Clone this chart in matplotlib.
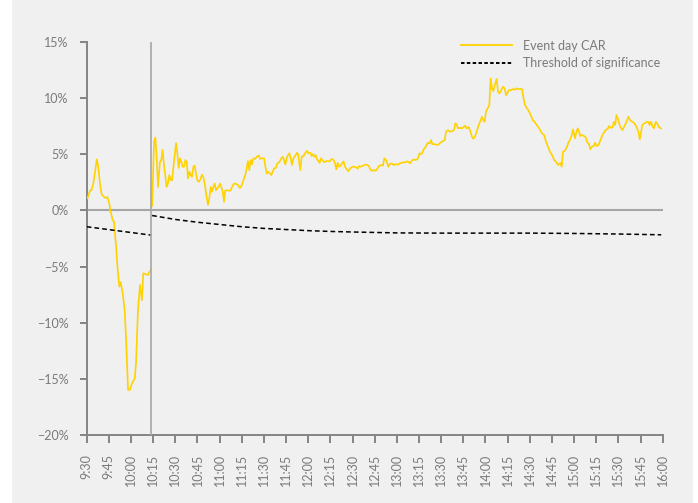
import matplotlib
matplotlib.use("Agg")
import matplotlib.pyplot as plt
from matplotlib.lines import Line2D
from matplotlib.patches import Rectangle

plt.rcParams['font.family'] = ['Lato', 'DejaVu Sans']

# ---- data (minutes after 9:30) ----
tick_labels = ["9:30", "9:45", "10:00", "10:15", "10:30", "10:45", "11:00", "11:15", "11:30",
               "11:45", "12:00", "12:15", "12:30", "12:45", "13:00", "13:15", "13:30", "13:45",
               "14:00", "14:15", "14:30", "14:45", "15:00", "15:15", "15:30", "15:45", "16:00"]
y_ticks = [-20, -15, -10, -5, 0, 5, 10, 15]

pre_t = [0.5, 2.3, 3.2, 4.5, 5.4, 6.8, 7.7, 9, 10, 11.7, 13, 14, 15.3, 16.2, 17.6, 18.5, 19.9,
         20.8, 22.1, 23, 24.4, 25.7, 26.6, 28, 29.3, 30.7, 32.5, 33.4, 34.7, 36.1, 37.4, 38.3,
         40.2, 41.5, 42.4, 43.7]
pre_car = [1.08, 1.8, 1.8, 2.4, 3.2, 4.56, 4.05, 2.4, 1.5, 1.2, 1.1, 1.2, 0.6, -0.1, -0.86,
           -1.0, -3.2, -5.0, -6.8, -6.4, -7.4, -8.9, -11.3, -16.0, -16.0, -15.4, -15.0, -13.6,
           -8.9, -6.65, -8.0, -5.6, -5.7, -5.75, -5.5, -5.25]

post_t = [44.3, 45.6, 46.5, 47.4, 48.3, 49.6, 50.5, 51.4, 52.3, 53.2, 54.1, 55, 55.9, 56.9,
          57.8, 59.1, 60.5, 61.3, 62.3, 63.2, 64.1, 65, 65.9, 66.8, 67.7, 68.6, 69.5, 70.4,
          71.3, 72.2, 73.1, 74, 74.9, 75.8, 76.7, 78.1, 78.9, 79.9, 81.2, 82.1, 83, 84, 84.8,
          85.7, 86.7, 87.5, 88.4, 89.4, 90.2, 91.1, 92.1, 93, 93.8, 94.8, 96.1, 97.5, 98.4,
          99.7, 101.1, 102.4, 103.8, 105.1, 106.5, 107.4, 108.3, 109.2, 110.1, 111, 111.9,
          112.8, 114.2, 115.1, 116.5, 117.4, 118.7, 120.1, 121, 121.9, 122.8, 124.1, 125,
          125.9, 126.8, 128.2, 129, 130.4, 131.3, 132.7, 133.6, 134.5, 135.4, 136.3, 137.2,
          138.1, 139, 139.9, 140.8, 142.4, 143.3, 144.6, 145.6, 146.9, 147.8, 149.2, 150,
          151.4, 152.3, 153.2, 154.1, 155, 155.9, 156.8, 157.7, 158.6, 159.5, 160.9, 162.2,
          163.6, 164.9, 165.9, 167.2, 168.1, 169, 169.9, 170.8, 171.7, 172.6, 173.9, 174.9,
          176.2, 177.1, 178.5, 179.8, 181.2, 182.5, 183.5, 184.4, 185.7, 187.1, 188.4, 189.8,
          191.1, 192, 193, 194.3, 195.7, 196.5, 197.9, 199.3, 200.6, 201.5, 202.5, 203.4,
          204.2, 205.2, 206.6, 207.9, 209.3, 210.6, 212, 213.3, 214.7, 216, 216.9, 218.2,
          219.1, 220, 221.4, 222.7, 224.1, 225.4, 226.8, 228.2, 229.5, 230.9, 232.2, 233.1,
          234, 235.3, 236.7, 238.1, 239.4, 240.8, 242.4, 243.3, 244.6, 246, 247.4, 248.7,
          249.6, 250.5, 251.4, 252.7, 254.1, 255.4, 256.3, 257.3, 258.6, 259.5, 260.9, 261.7,
          262.7, 264, 265.4, 266.8, 267.6, 268.5, 269.5, 270.3, 271.7, 272.6, 273.5, 274.4,
          275.3, 276.3, 277.6, 278.5, 279.4, 280.3, 281.2, 282.1, 283.1, 283.9, 284.8, 285.8,
          287.1, 288.4, 289.8, 291.1, 292.5, 293.8, 294.7, 295.6, 296.6, 297.9, 299.3, 300.6,
          302, 303.3, 304.7, 306.1, 307, 308.3, 309.7, 311, 312.4, 313.7, 315.1, 316.5, 317.8,
          319.2, 320.7, 321.6, 322.5, 323.8, 325.2, 326.1, 327.4, 328.4, 329.3, 330.6, 331.5,
          332.4, 333.3, 334.2, 335.2, 336.5, 337.9, 338.7, 340.1, 341, 342, 343.3, 344.2,
          345.1, 346.5, 347.4, 348.7, 350.1, 351.4, 352.8, 353.7, 355, 355.9, 356.9, 357.8,
          358.7, 359.6, 360.5, 361.4, 362.8, 364.1, 365.5, 366.8, 368.2, 369.5, 370.9, 372.2,
          373.6, 374.5, 375.4, 376.2, 377.6, 379, 380.3, 381.2, 382.1, 383, 384, 385.3, 386.2,
          387.6, 388.9]
post_car = [0.4, 6.1, 6.5, 4.65, 2.1, 4.35, 4.5, 5.4, 4.05, 3.16, 2.1, 2.4, 3.16, 2.7, 2.7,
            4.35, 6.0, 5.2, 3.8, 4.65, 4.35, 3.9, 3.9, 4.5, 4.35, 2.86, 3.45, 3.16, 3.0, 3.9,
            4.0, 3.3, 2.7, 2.56, 2.7, 3.2, 3.0, 2.4, 1.2, 0.5, 1.08, 2.1, 1.67, 2.1, 2.4, 1.8,
            1.97, 2.1, 2.4, 2.1, 1.67, 0.78, 1.8, 1.8, 1.76, 1.8, 2.1, 2.4, 2.38, 2.27, 2.0,
            2.27, 2.86, 3.16, 3.75, 4.4, 3.6, 4.5, 4.1, 4.65, 4.6, 4.8, 4.9, 4.6, 4.65, 4.65,
            3.9, 3.3, 3.45, 3.3, 3.16, 3.45, 3.75, 3.8, 4.2, 4.3, 4.55, 4.8, 4.5, 4.1, 4.65,
            4.94, 5.1, 4.65, 4.05, 4.65, 4.8, 5.15, 4.94, 3.6, 4.8, 4.85, 5.1, 5.33, 5.1, 5.15,
            4.85, 5.03, 4.8, 4.94, 4.55, 4.43, 4.25, 4.65, 4.5, 4.3, 4.4, 4.38, 4.43, 4.6, 4.5,
            4.2, 3.67, 4.25, 3.9, 3.96, 4.14, 4.38, 3.9, 3.67, 3.5, 3.75, 3.9, 3.9, 3.84, 3.72,
            3.96, 3.9, 3.99, 4.08, 4.08, 3.96, 3.67, 3.54, 3.6, 3.54, 3.67, 3.96, 4.05, 4.0,
            4.65, 4.55, 4.25, 3.9, 4.14, 4.2, 4.05, 4.14, 4.08, 4.2, 4.25, 4.3, 4.3, 4.38, 4.3,
            4.2, 4.43, 4.55, 4.5, 4.6, 5.1, 5.03, 5.45, 5.68, 6.04, 5.98, 6.28, 5.92, 5.92,
            5.86, 5.86, 6.04, 6.16, 6.28, 7.02, 7.17, 7.02, 7.08, 7.17, 7.77, 7.68, 7.32, 7.38,
            7.32, 7.47, 7.56, 7.32, 7.44, 7.17, 6.57, 6.4, 6.52, 7.02, 7.62, 8.06, 8.36, 8.06,
            7.91, 8.8, 9.16, 9.4, 11.78, 10.9, 10.65, 11.19, 11.72, 10.59, 10.45, 10.59, 10.9,
            11.04, 10.83, 10.29, 10.45, 10.74, 10.71, 10.83, 10.77, 10.9, 10.83, 10.83, 10.83,
            10.14, 9.46, 9.16, 8.87, 8.51, 8.06, 7.91, 7.62, 7.38, 7.17, 6.88, 6.73, 6.13, 5.68,
            5.24, 4.94, 4.5, 4.35, 4.05, 4.25, 3.9, 5.24, 5.33, 5.68, 6.04, 6.34, 6.73, 7.23,
            6.43, 6.93, 7.32, 7.02, 6.64, 6.73, 6.66, 6.52, 6.13, 5.92, 5.45, 5.68, 5.75, 6.04,
            5.75, 5.83, 6.13, 6.57, 6.93, 7.17, 7.29, 7.53, 7.35, 7.41, 7.91, 7.62, 8.51, 8.21,
            7.77, 7.41, 7.17, 7.53, 7.91, 8.36, 8.0, 7.91, 7.77, 7.47, 7.02, 6.34, 7.02, 7.62,
            7.77, 7.89, 7.91, 7.62, 7.91, 7.53, 7.32, 7.91, 7.77, 7.41, 7.32]

thr_pre_t = [0, 43.7]
thr_pre = [-1.45, -2.2]
thr_post_t = [44.3, 60, 75, 90, 105, 120, 135, 150, 165, 180, 195, 210, 240, 270, 300, 330, 360, 389]
thr_post = [-0.45, -0.8, -1.05, -1.25, -1.45, -1.6, -1.7, -1.8, -1.87, -1.92, -1.96, -2.0,
            -2.02, -2.02, -2.02, -2.05, -2.1, -2.17]
event_t = 43.7

# ---- style ----
YELLOW = "#FFD200"
GRID_GREY = "#a6a6a6"
AX_GREY = "#858585"
TXT_GREY = "#7a7a7a"
BG = "#f0f0f0"
FS = 9

fig = plt.figure(figsize=(6.98, 5.03), dpi=100, facecolor="white")
fig.patches.append(Rectangle((12 / 698, 0), (693 - 12) / 698, 1, transform=fig.transFigure,
                             facecolor=BG, edgecolor="none", zorder=-10))
ax = fig.add_axes([86.7 / 698, 1 - 434.7 / 503, (662.7 - 86.7) / 698, (434.7 - 42.3) / 503])
ax.set_facecolor("none")

ax.axhline(0, color=GRID_GREY, lw=1.5, zorder=1)
ax.plot(pre_t, pre_car, color=YELLOW, lw=1.2, zorder=3)
ax.plot(post_t, post_car, color=YELLOW, lw=1.2, zorder=3)
dash = (3.1, 2.0)
ax.plot(thr_pre_t, thr_pre, color="black", lw=1.1, dashes=dash, zorder=3)
ax.plot(thr_post_t, thr_post, color="black", lw=1.1, dashes=dash, zorder=3)
ax.axvline(event_t, color=GRID_GREY, lw=1.2, zorder=4)

ax.set_xlim(0, 390)
ax.set_ylim(-20, 15)
ax.set_xticks(range(0, 391, 15))
ax.set_xticklabels(tick_labels, rotation=90)
ax.set_yticks(y_ticks)
ax.set_yticklabels([f"{v}%".replace("-", "\u2212") for v in y_ticks])

for s in ["top", "right"]:
    ax.spines[s].set_visible(False)
for s in ["left", "bottom"]:
    ax.spines[s].set_color(AX_GREY)
    ax.spines[s].set_linewidth(1.4)
ax.tick_params(axis="y", length=5, width=1.4, color=AX_GREY, labelcolor=TXT_GREY,
               labelsize=FS, pad=8)
ax.tick_params(axis="x", length=5.8, width=1.4, color=AX_GREY, labelcolor=TXT_GREY,
               labelsize=FS, pad=8)

handles = [Line2D([], [], color=YELLOW, lw=1.3),
           Line2D([], [], color="black", lw=1.4, dashes=(1.8, 1.2))]
leg = ax.legend(handles, ["Event day CAR", "Threshold of significance"],
                loc="upper left", bbox_to_anchor=(461 / 698, 1 - 39.5 / 503),
                bbox_transform=fig.transFigure, frameon=False, fontsize=FS,
                handlelength=4.1, handletextpad=0.85, labelspacing=0.45,
                borderpad=0, borderaxespad=0)
for t in leg.get_texts():
    t.set_color(TXT_GREY)

fig.savefig("out.png", dpi=100, facecolor=fig.get_facecolor())
